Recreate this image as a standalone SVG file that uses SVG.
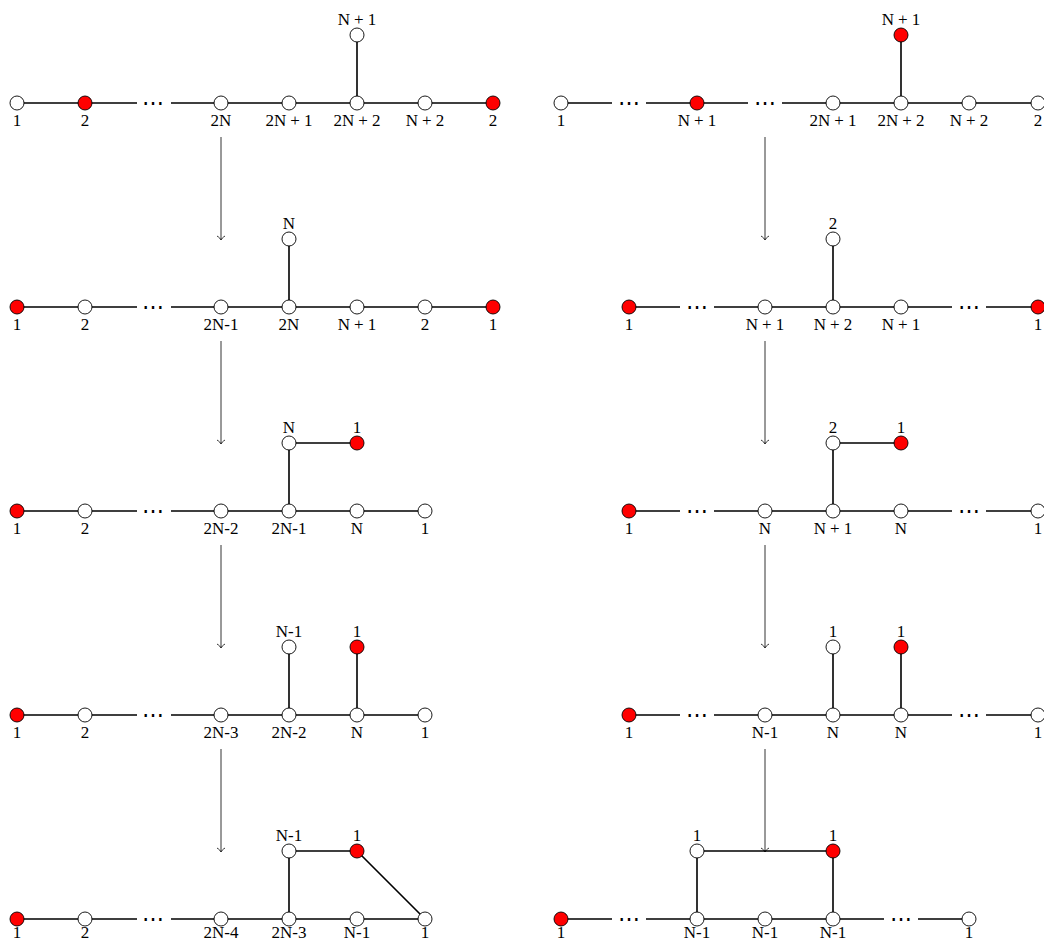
<svg xmlns="http://www.w3.org/2000/svg" width="1044" height="942" viewBox="0 0 1044 942">
<style>
.w{fill:#fff;stroke:#000;stroke-width:0.9}
.r{fill:#ff0000;stroke:#000;stroke-width:0.9}
.e{fill:none;stroke:#000;stroke-width:1.6}
.a{fill:none;stroke:#000;stroke-width:0.8}
text{font-family:"Liberation Serif","DejaVu Serif",serif;font-size:17px;text-anchor:middle;fill:#000}
.d{font-family:"DejaVu Serif",serif;font-size:22px}
</style>
<defs>
<marker id="to" viewBox="-6 -6 8 12" refX="0" refY="0" markerWidth="8" markerHeight="12" markerUnits="userSpaceOnUse" orient="auto" overflow="visible">
<path d="M-4,-4 C-2.5,-1.5 -1,-0.5 0,0 C-1,0.5 -2.5,1.5 -4,4" fill="none" stroke="#000" stroke-width="0.8"/>
</marker>
</defs>
<rect width="1044" height="942" fill="#fff"/>
<g id="connectors">
<path class="e" d="M17,103H137M171,103H493M357,103V35"/>
<path class="e" d="M17,307H137M171,307H493M289,307V239"/>
<path class="e" d="M17,511H137M171,511H425M289,511V443H357"/>
<path class="e" d="M17,715H137M171,715H425M289,715V647M357,715V647"/>
<path class="e" d="M17,919H137M171,919H425M289,919V851H357L425,919"/>
<path class="e" d="M561,103H612M646,103H748M782,103H1044M901,103V35"/>
<path class="e" d="M629,307H680M714,307H952M986,307H1044M833,307V239"/>
<path class="e" d="M629,511H680M714,511H952M986,511H1044M833,511V443H901"/>
<path class="e" d="M629,715H680M714,715H952M986,715H1044M833,715V647M901,715V647"/>
<path class="e" d="M561,919H612M646,919H884M918,919H969M697,919V851H833V919"/>
<line class="a" x1="221" y1="137" x2="221" y2="240" marker-end="url(#to)"/>
<line class="a" x1="221" y1="341" x2="221" y2="444" marker-end="url(#to)"/>
<line class="a" x1="221" y1="545" x2="221" y2="648" marker-end="url(#to)"/>
<line class="a" x1="221" y1="749" x2="221" y2="852" marker-end="url(#to)"/>
<line class="a" x1="765" y1="137" x2="765" y2="240" marker-end="url(#to)"/>
<line class="a" x1="765" y1="341" x2="765" y2="444" marker-end="url(#to)"/>
<line class="a" x1="765" y1="545" x2="765" y2="648" marker-end="url(#to)"/>
<line class="a" x1="765" y1="749" x2="765" y2="852" marker-end="url(#to)"/>
</g>
<g id="ellipses">
<text class="d" x="153" y="110">⋯</text>
<text class="d" x="153" y="314">⋯</text>
<text class="d" x="153" y="518">⋯</text>
<text class="d" x="153" y="722">⋯</text>
<text class="d" x="153" y="926">⋯</text>
<text class="d" x="629" y="110">⋯</text>
<text class="d" x="765" y="110">⋯</text>
<text class="d" x="697" y="314">⋯</text>
<text class="d" x="969" y="314">⋯</text>
<text class="d" x="697" y="518">⋯</text>
<text class="d" x="969" y="518">⋯</text>
<text class="d" x="697" y="722">⋯</text>
<text class="d" x="969" y="722">⋯</text>
<text class="d" x="629" y="926">⋯</text>
<text class="d" x="901" y="926">⋯</text>
</g>
<!-- Left row 1 -->
<g id="L1a"><circle class="w" cx="17" cy="103" r="7"/><text x="17" y="126">1</text></g>
<g id="L1b"><circle class="r" cx="85" cy="103" r="7"/><text x="85" y="126">2</text></g>
<g id="L1c"><circle class="w" cx="221" cy="103" r="7"/><text x="221" y="126">2N</text></g>
<g id="L1d"><circle class="w" cx="289" cy="103" r="7"/><text x="289" y="126">2N<tspan dx="4">+</tspan><tspan dx="4">1</tspan></text></g>
<g id="L1e"><circle class="w" cx="357" cy="103" r="7"/><text x="357" y="126">2N<tspan dx="4">+</tspan><tspan dx="4">2</tspan></text></g>
<g id="L1f"><circle class="w" cx="425" cy="103" r="7"/><text x="425" y="126">N<tspan dx="4">+</tspan><tspan dx="4">2</tspan></text></g>
<g id="L1g"><circle class="r" cx="493" cy="103" r="7"/><text x="493" y="126">2</text></g>
<g id="L1h"><circle class="w" cx="357" cy="35" r="7"/><text x="357" y="25">N<tspan dx="4">+</tspan><tspan dx="4">1</tspan></text></g>
<!-- Left row 2 -->
<g id="L2a"><circle class="r" cx="17" cy="307" r="7"/><text x="17" y="330">1</text></g>
<g id="L2b"><circle class="w" cx="85" cy="307" r="7"/><text x="85" y="330">2</text></g>
<g id="L2c"><circle class="w" cx="221" cy="307" r="7"/><text x="221" y="330">2N-1</text></g>
<g id="L2d"><circle class="w" cx="289" cy="307" r="7"/><text x="289" y="330">2N</text></g>
<g id="L2e"><circle class="w" cx="357" cy="307" r="7"/><text x="357" y="330">N<tspan dx="4">+</tspan><tspan dx="4">1</tspan></text></g>
<g id="L2f"><circle class="w" cx="425" cy="307" r="7"/><text x="425" y="330">2</text></g>
<g id="L2g"><circle class="r" cx="493" cy="307" r="7"/><text x="493" y="330">1</text></g>
<g id="L2h"><circle class="w" cx="289" cy="239" r="7"/><text x="289" y="229">N</text></g>
<!-- Left row 3 -->
<g id="L3a"><circle class="r" cx="17" cy="511" r="7"/><text x="17" y="534">1</text></g>
<g id="L3b"><circle class="w" cx="85" cy="511" r="7"/><text x="85" y="534">2</text></g>
<g id="L3c"><circle class="w" cx="221" cy="511" r="7"/><text x="221" y="534">2N-2</text></g>
<g id="L3d"><circle class="w" cx="289" cy="511" r="7"/><text x="289" y="534">2N-1</text></g>
<g id="L3e"><circle class="w" cx="357" cy="511" r="7"/><text x="357" y="534">N</text></g>
<g id="L3f"><circle class="w" cx="425" cy="511" r="7"/><text x="425" y="534">1</text></g>
<g id="L3g"><circle class="w" cx="289" cy="443" r="7"/><text x="289" y="433">N</text></g>
<g id="L3h"><circle class="r" cx="357" cy="443" r="7"/><text x="357" y="433">1</text></g>
<!-- Left row 4 -->
<g id="L4a"><circle class="r" cx="17" cy="715" r="7"/><text x="17" y="738">1</text></g>
<g id="L4b"><circle class="w" cx="85" cy="715" r="7"/><text x="85" y="738">2</text></g>
<g id="L4c"><circle class="w" cx="221" cy="715" r="7"/><text x="221" y="738">2N-3</text></g>
<g id="L4d"><circle class="w" cx="289" cy="715" r="7"/><text x="289" y="738">2N-2</text></g>
<g id="L4e"><circle class="w" cx="357" cy="715" r="7"/><text x="357" y="738">N</text></g>
<g id="L4f"><circle class="w" cx="425" cy="715" r="7"/><text x="425" y="738">1</text></g>
<g id="L4g"><circle class="w" cx="289" cy="647" r="7"/><text x="289" y="637">N-1</text></g>
<g id="L4h"><circle class="r" cx="357" cy="647" r="7"/><text x="357" y="637">1</text></g>
<!-- Left row 5 -->
<g id="L5a"><circle class="r" cx="17" cy="919" r="7"/><text x="17" y="938">1</text></g>
<g id="L5b"><circle class="w" cx="85" cy="919" r="7"/><text x="85" y="938">2</text></g>
<g id="L5c"><circle class="w" cx="221" cy="919" r="7"/><text x="221" y="938">2N-4</text></g>
<g id="L5d"><circle class="w" cx="289" cy="919" r="7"/><text x="289" y="938">2N-3</text></g>
<g id="L5e"><circle class="w" cx="357" cy="919" r="7"/><text x="357" y="938">N-1</text></g>
<g id="L5f"><circle class="w" cx="425" cy="919" r="7"/><text x="425" y="938">1</text></g>
<g id="L5g"><circle class="w" cx="289" cy="851" r="7"/><text x="289" y="841">N-1</text></g>
<g id="L5h"><circle class="r" cx="357" cy="851" r="7"/><text x="357" y="841">1</text></g>
<!-- Right row 1 -->
<g id="R1a"><circle class="w" cx="561" cy="103" r="7"/><text x="561" y="126">1</text></g>
<g id="R1b"><circle class="r" cx="697" cy="103" r="7"/><text x="697" y="126">N<tspan dx="4">+</tspan><tspan dx="4">1</tspan></text></g>
<g id="R1c"><circle class="w" cx="833" cy="103" r="7"/><text x="833" y="126">2N<tspan dx="4">+</tspan><tspan dx="4">1</tspan></text></g>
<g id="R1d"><circle class="w" cx="901" cy="103" r="7"/><text x="901" y="126">2N<tspan dx="4">+</tspan><tspan dx="4">2</tspan></text></g>
<g id="R1e"><circle class="w" cx="969" cy="103" r="7"/><text x="969" y="126">N<tspan dx="4">+</tspan><tspan dx="4">2</tspan></text></g>
<g id="R1f"><circle class="w" cx="1038" cy="103" r="7"/><text x="1038" y="126">2</text></g>
<g id="R1g"><circle class="r" cx="901" cy="35" r="7"/><text x="901" y="25">N<tspan dx="4">+</tspan><tspan dx="4">1</tspan></text></g>
<!-- Right row 2 -->
<g id="R2a"><circle class="r" cx="629" cy="307" r="7"/><text x="629" y="330">1</text></g>
<g id="R2b"><circle class="w" cx="765" cy="307" r="7"/><text x="765" y="330">N<tspan dx="4">+</tspan><tspan dx="4">1</tspan></text></g>
<g id="R2c"><circle class="w" cx="833" cy="307" r="7"/><text x="833" y="330">N<tspan dx="4">+</tspan><tspan dx="4">2</tspan></text></g>
<g id="R2d"><circle class="w" cx="901" cy="307" r="7"/><text x="901" y="330">N<tspan dx="4">+</tspan><tspan dx="4">1</tspan></text></g>
<g id="R2e"><circle class="r" cx="1038" cy="307" r="7"/><text x="1038" y="330">1</text></g>
<g id="R2f"><circle class="w" cx="833" cy="239" r="7"/><text x="833" y="229">2</text></g>
<!-- Right row 3 -->
<g id="R3a"><circle class="r" cx="629" cy="511" r="7"/><text x="629" y="534">1</text></g>
<g id="R3b"><circle class="w" cx="765" cy="511" r="7"/><text x="765" y="534">N</text></g>
<g id="R3c"><circle class="w" cx="833" cy="511" r="7"/><text x="833" y="534">N<tspan dx="4">+</tspan><tspan dx="4">1</tspan></text></g>
<g id="R3d"><circle class="w" cx="901" cy="511" r="7"/><text x="901" y="534">N</text></g>
<g id="R3e"><circle class="w" cx="1038" cy="511" r="7"/><text x="1038" y="534">1</text></g>
<g id="R3f"><circle class="w" cx="833" cy="443" r="7"/><text x="833" y="433">2</text></g>
<g id="R3g"><circle class="r" cx="901" cy="443" r="7"/><text x="901" y="433">1</text></g>
<!-- Right row 4 -->
<g id="R4a"><circle class="r" cx="629" cy="715" r="7"/><text x="629" y="738">1</text></g>
<g id="R4b"><circle class="w" cx="765" cy="715" r="7"/><text x="765" y="738">N-1</text></g>
<g id="R4c"><circle class="w" cx="833" cy="715" r="7"/><text x="833" y="738">N</text></g>
<g id="R4d"><circle class="w" cx="901" cy="715" r="7"/><text x="901" y="738">N</text></g>
<g id="R4e"><circle class="w" cx="1038" cy="715" r="7"/><text x="1038" y="738">1</text></g>
<g id="R4f"><circle class="w" cx="833" cy="647" r="7"/><text x="833" y="637">1</text></g>
<g id="R4g"><circle class="r" cx="901" cy="647" r="7"/><text x="901" y="637">1</text></g>
<!-- Right row 5 -->
<g id="R5a"><circle class="r" cx="561" cy="919" r="7"/><text x="561" y="938">1</text></g>
<g id="R5b"><circle class="w" cx="697" cy="919" r="7"/><text x="697" y="938">N-1</text></g>
<g id="R5c"><circle class="w" cx="765" cy="919" r="7"/><text x="765" y="938">N-1</text></g>
<g id="R5d"><circle class="w" cx="833" cy="919" r="7"/><text x="833" y="938">N-1</text></g>
<g id="R5e"><circle class="w" cx="969" cy="919" r="7"/><text x="969" y="938">1</text></g>
<g id="R5f"><circle class="w" cx="697" cy="851" r="7"/><text x="697" y="841">1</text></g>
<g id="R5g"><circle class="r" cx="833" cy="851" r="7"/><text x="833" y="841">1</text></g>
</svg>
